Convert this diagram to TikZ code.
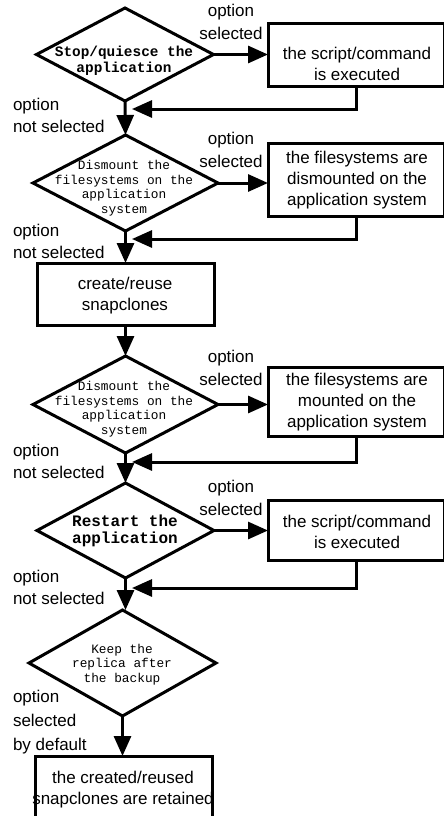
\documentclass[tikz,border=0pt]{standalone}
\usepackage{fontspec}
\setmainfont{Liberation Sans}
\newfontfamily\monofam{Liberation Mono}
\usetikzlibrary{shapes.geometric,arrows.meta}
\begin{document}
\begin{tikzpicture}[x=1pt,y=-1pt,
  every node/.style={inner sep=0pt,outer sep=0pt},
  decision/.style={diamond,draw,line width=3pt},
  action/.style={rectangle,draw,line width=3pt},
  arr/.style={line width=3pt,-{Triangle[length=20pt,width=17pt]}},
  sanstxt/.style={font=\fontsize{17}{21}\selectfont,align=center,anchor=base},
  lbl/.style={font=\fontsize{17}{22}\selectfont,align=left,anchor=base west},
  toplbl/.style={font=\fontsize{17}{23}\selectfont,align=center,anchor=base},
  bigq/.style={font=\monofam\bfseries\fontsize{14.4}{17}\selectfont,align=center,anchor=base},
  midq/.style={font=\monofam\bfseries\fontsize{16}{17}\selectfont,align=center,anchor=base},
  smallq/.style={font=\monofam\fontsize{12.8}{14.5}\selectfont,align=center,anchor=base}]
\useasboundingbox (0,0) rectangle (444,816);
\clip (0,0) rectangle (444,816);

% decisions
\node[decision,minimum width=177pt,minimum height=93pt] (d1) at (125,54.5) {};
\node[decision,minimum width=185pt,minimum height=96pt] (d2) at (125.5,183) {};
\node[decision,minimum width=185pt,minimum height=97pt] (d3) at (125.5,404.5) {};
\node[decision,minimum width=177pt,minimum height=95pt] (d4) at (125.5,530.5) {};
\node[decision,minimum width=187pt,minimum height=106pt] (d5) at (122.5,663) {};

% decision texts (placed by the baseline of their last line)
\node[bigq] (q1) at (124,73) {Stop/quiesce the\\application};
\node[smallq] (q2) at (124,213) {Dismount the\\filesystems on the\\application\\system};
\node[smallq] (q3) at (124,434) {Dismount the\\filesystems on the\\application\\system};
\node[midq] (q4) at (125,543) {Restart the\\application};
\node[smallq] (q5) at (122,682) {Keep the\\replica after\\the backup};

% actions
\node[action,minimum width=176.5pt,minimum height=62pt] (b1) at (356.25,55) {};
\node[action,minimum width=176.5pt,minimum height=73pt] (b2) at (356.25,179.5) {};
\node[action,minimum width=177pt,minimum height=62pt] (b3) at (125.5,294) {};
\node[action,minimum width=176.5pt,minimum height=69pt] (b4) at (356.25,401.5) {};
\node[action,minimum width=176.5pt,minimum height=60pt] (b5) at (356.25,530) {};
\node[action,minimum width=177pt,minimum height=80pt] (b6) at (123.5,796) {};

% action texts
\node[sanstxt] (t1) at (357,81) {the script/command\\is executed};
\node[sanstxt] (t2) at (357,205) {the filesystems are\\dismounted on the\\application system};
\node[sanstxt] (t3) at (125,310) {create/reuse\\snapclones};
\node[sanstxt] (t4) at (357,427) {the filesystems are\\mounted on the\\application system};
\node[sanstxt] (t5) at (357,548) {the script/command\\is executed};
\node[sanstxt] (t6) at (123,804) {the created/reused\\snapclones are retained};

% branch labels
\node[toplbl] (s1) at (231,40) {option\\selected};
\node[toplbl] (s2) at (231,167) {option\\selected};
\node[toplbl] (s3) at (231,385) {option\\selected};
\node[toplbl] (s4) at (231,515) {option\\selected};
\node[lbl] (n1) at (13,132.7) {option\\not selected};
\node[lbl] (n2) at (13,258) {option\\not selected};
\node[lbl] (n3) at (13,478) {option\\not selected};
\node[lbl] (n4) at (13,604) {option\\not selected};
\node[lbl,font=\fontsize{17}{24}\selectfont] (n5) at (13,750) {option\\selected\\by default};

% return points on the main line
\coordinate (r1) at (132,109);
\coordinate (r2) at (132,239);
\coordinate (r4) at (132,462);
\coordinate (r5) at (132,588);

% connectors
\draw[arr] (d1.east) -- (d1.east -| b1.west);
\draw[arr] (b1.south) |- (r1);
\draw[arr] (d1.south) -- (d2.north);
\draw[arr] (d2.east) -- (d2.east -| b2.west);
\draw[arr] (b2.south) |- (r2);
\draw[arr] (d2.south) -- (d2.south |- b3.north);
\draw[arr] (b3.south) -- (b3.south |- d3.north);
\draw[arr] (d3.east) -- (d3.east -| b4.west);
\draw[arr] (b4.south) |- (r4);
\draw[arr] (d3.south) -- (d4.north);
\draw[arr] (d4.east) -- (d4.east -| b5.west);
\draw[arr] (b5.south) |- (r5);
\draw[arr] (d4.south) -- (d4.south |- d5.north);
\draw[arr] (d5.south) -- (d5.south |- b6.north);
\end{tikzpicture}
\end{document}
